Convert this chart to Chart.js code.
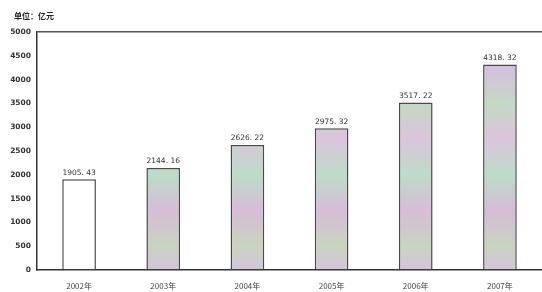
<!DOCTYPE html>
<html>
<head>
<meta charset="utf-8">
<script src="https://cdn.jsdelivr.net/npm/chart.js@4/dist/chart.umd.min.js"></script>
<style>
  html, body { margin: 0; padding: 0; background: #fff; }
  #wrap { width: 542px; height: 292px; }
</style>
</head>
<body>
<div id="wrap"><canvas id="grafico"></canvas></div>
<script>
const anos = ['2002年', '2003年', '2004年', '2005年', '2006年', '2007年'];
const valores = [1905.43, 2144.16, 2626.22, 2975.32, 3517.22, 4318.32];
const rotulos = ['1905. 43', '2144. 16', '2626. 22', '2975. 32', '3517. 22', '4318. 32'];
const unidade = '单位：亿元';

// colourful speckled fill of the printed bars, as a soft gradient
function preenchimento(ctx) {
  const chart = ctx.chart;
  const area = chart.chartArea;
  if (!area) return '#d0c4d4';
  if (ctx.dataIndex === 0) return '#ffffff';
  const g = chart.ctx.createLinearGradient(0, area.top, 0, area.bottom);
  g.addColorStop(0.0, '#c9b0d6');
  g.addColorStop(0.15, '#d6c0e0');
  g.addColorStop(0.3, '#c4d8c4');
  g.addColorStop(0.45, '#dcc4dc');
  g.addColorStop(0.6, '#bcdcc8');
  g.addColorStop(0.75, '#d8bcd8');
  g.addColorStop(0.9, '#c8d4c0');
  g.addColorStop(1.0, '#d4c4dc');
  return g;
}

const textoBarras = {
  id: 'textoBarras',
  afterDatasetsDraw(chart) {
    const c = chart.ctx;
    const meta = chart.getDatasetMeta(0);
    c.save();
    c.font = '7.5px "DejaVu Sans"';
    c.fillStyle = '#333';
    c.textAlign = 'center';
    c.textBaseline = 'bottom';
    meta.data.forEach((bar, i) => {
      c.fillText(rotulos[i], bar.x, bar.y - 3);
    });
    c.font = 'bold 8px "Noto Sans CJK SC"';
    c.fillStyle = '#222';
    c.textAlign = 'left';
    c.textBaseline = 'middle';
    c.fillText(unidade, 14, 16);
    c.restore();
  }
};

const config = {
  type: 'bar',
  data: {
    labels: anos,
    datasets: [{
      data: valores,
      backgroundColor: preenchimento,
      borderColor: '#4a4a4a',
      borderWidth: 1.5,
      borderSkipped: 'bottom',
      categoryPercentage: 1,
      barPercentage: 0.4
    }]
  },
  options: {
    responsive: true,
    maintainAspectRatio: false,
    animation: false,
    layout: { padding: { top: 32, right: 0, left: 0, bottom: 0 } },
    plugins: {
      legend: { display: false },
      tooltip: { enabled: false }
    },
    scales: {
      y: {
        min: 0,
        max: 5000,
        afterFit: (s) => { s.width = 37; },
        ticks: {
          stepSize: 500,
          padding: 6,
          color: '#333',
          font: { size: 7.5, family: 'DejaVu Sans', weight: 'bold' },
          callback: (v) => String(v)
        },
        border: { display: true, color: '#333', width: 1.5 },
        grid: {
          drawTicks: false,
          color: (ctx) => ctx.tick && ctx.tick.value === 5000 ? '#555' : 'rgba(0,0,0,0)',
          lineWidth: 1.5
        }
      },
      x: {
        afterFit: (s) => { s.height = 22; },
        ticks: {
          padding: 3,
          color: '#444',
          font: { size: 8, family: 'Noto Sans CJK SC' }
        },
        border: { display: true, color: '#333', width: 1.5 },
        grid: { display: false }
      }
    }
  },
  plugins: [textoBarras]
};

const ctx = document.getElementById('grafico').getContext('2d');
new Chart(ctx, config);
</script>
</body>
</html>
